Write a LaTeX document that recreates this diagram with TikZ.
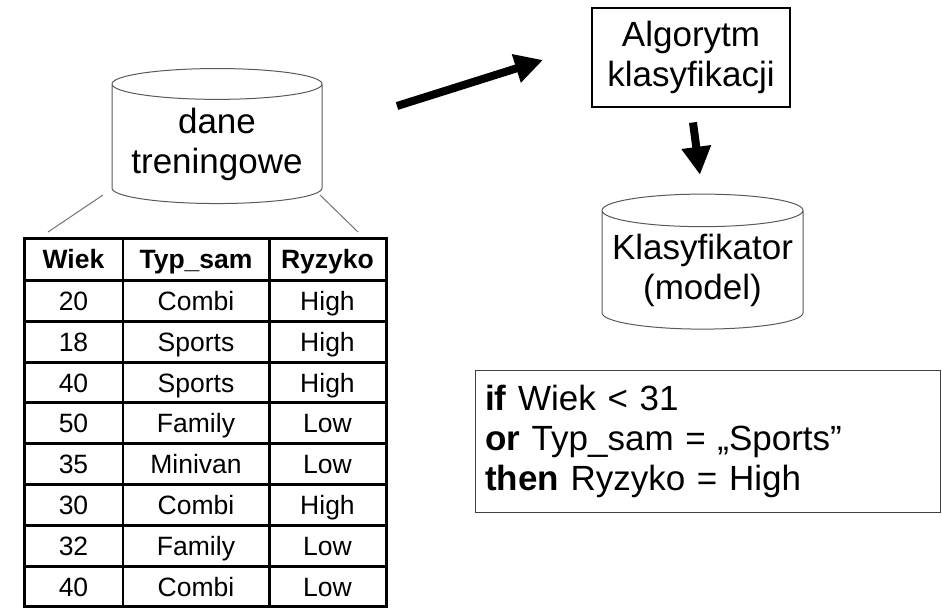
\documentclass[tikz,border=0pt]{standalone}
\usepackage{fontspec}
\setmainfont{Liberation Sans}
\usetikzlibrary{positioning, calc, arrows.meta, shapes.geometric, matrix}

\begin{document}
\begin{tikzpicture}[
    x=1pt, y=-1pt,
    font=\fontsize{35}{40}\selectfont,
    store/.style={
        cylinder,
        draw=black!65,
        line width=1pt,
        shape border rotate=90,
        aspect=0.18,
        minimum width=#1,
        minimum height=135pt,
        align=center,
        inner sep=0pt
    },
    algobox/.style={
        draw,
        line width=1.2pt,
        align=center,
        minimum width=198pt,
        minimum height=99pt,
        inner sep=0pt
    },
    rulebox/.style={
        draw=black!75,
        line width=1pt,
        align=left,
        text width=445pt,
        minimum height=142pt,
        inner sep=10pt
    },
    bigarrow/.style={
        line width=8pt,
        -{Triangle[length=28pt, width=28pt]}
    },
    link/.style={draw=black!55, line width=1pt},
    datatable/.style={
        matrix of nodes,
        draw,
        line width=3pt,
        inner sep=0pt,
        column sep=0pt,
        row sep=0pt,
        nodes={
            draw,
            line width=1.5pt,
            outer sep=0pt,
            inner sep=0pt,
            minimum height=39.3pt,
            text height=19pt,
            text depth=0pt,
            font=\fontsize{26.5}{30}\selectfont
        },
        column 1/.style={nodes={minimum width=97.5pt}},
        column 2/.style={nodes={minimum width=144.5pt}},
        column 3/.style={nodes={minimum width=115.5pt}},
        row 1/.style={nodes={minimum height=40.9pt, font=\fontsize{26.5}{30}\selectfont\bfseries}}
    }
]
\useasboundingbox (0,0) rectangle (942,610);

% Training data
\node[store=210pt] (train) at (217,144) {dane\\treningowe};

\matrix[datatable] (data) at (205,422.5) {
    Wiek & Typ\_sam & Ryzyko \\
    20 & Combi & High \\
    18 & Sports & High \\
    40 & Sports & High \\
    50 & Family & Low \\
    35 & Minivan & Low \\
    30 & Combi & High \\
    32 & Family & Low \\
    40 & Combi & Low \\
};

% Algorithm and model
\node[algobox] (algo) at (691,57.5) {Algorytm\\klasyfikacji};
\node[store=201pt] (model) at (702.5,270) {Klasyfikator\\(model)};

% Rule
\node[rulebox] (rule) at (707.5,441) {\textbf{if} Wiek < 31\\\textbf{or} Typ\_sam = „Sports”\\\textbf{then} Ryzyko = High};

% Edges
\coordinate (trainL) at (103,195);
\coordinate (trainR) at (320,195);
\coordinate (dataL) at (48,232);
\coordinate (dataR) at (358,232);
\draw[link] (trainL) -- (dataL);
\draw[link] (trainR) -- (dataR);

\coordinate (feedS) at (397,106);
\coordinate (feedE) at (543,60);
\draw[bigarrow] (feedS) -- (feedE);
\draw[bigarrow, shorten <=15pt, shorten >=19pt] (algo.south) -- (model.north);

\end{tikzpicture}
\end{document}
